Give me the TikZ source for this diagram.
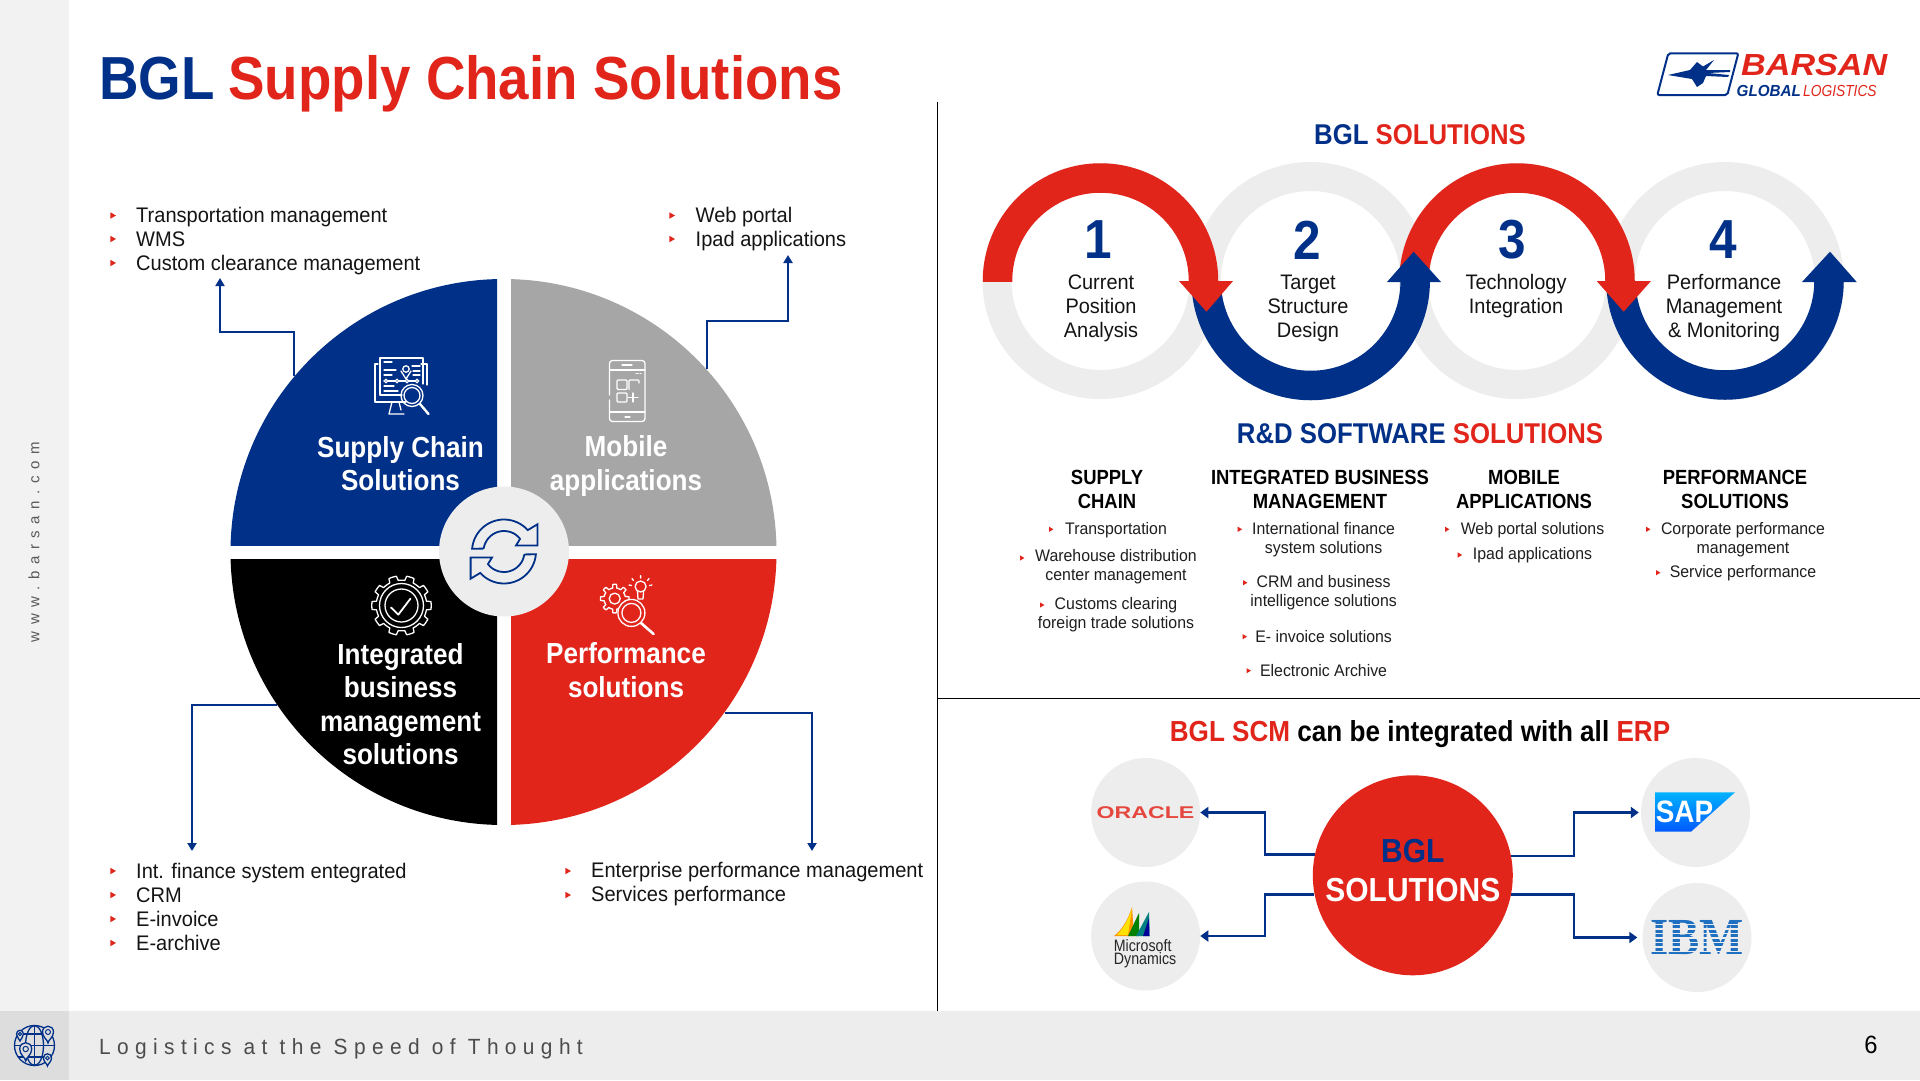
\documentclass[tikz,border=0pt]{standalone}
\usepackage{fontspec}
\setmainfont{Liberation Sans}[FakeStretch=0.95,BoldFeatures={FakeStretch=0.9}]
\newfontfamily\logowide{Liberation Sans}[FakeStretch=1.12]
\newfontfamily\logonarrow{Liberation Sans}[FakeStretch=0.95]
\newfontfamily\spacedfont{Liberation Sans}[LetterSpace=29,FakeStretch=0.95]
\newfontfamily\sidefont{Liberation Sans}[LetterSpace=44]
\newfontfamily\ibmfont{Liberation Serif}[FakeStretch=0.9]
\newfontfamily\oraclefont{Liberation Sans}[FakeStretch=1.36]
\newfontfamily\msfont{Liberation Sans}[FakeStretch=0.86]
\usetikzlibrary{arrows.meta,backgrounds}
\definecolor{bglblue}{HTML}{003087}
\definecolor{bglred}{HTML}{E1251B}
\definecolor{pale}{HTML}{EDEDED}
\definecolor{sidebar}{HTML}{F2F2F2}
\definecolor{corner}{HTML}{DDDDDD}
\definecolor{midgray}{HTML}{A6A6A6}
\definecolor{ibmblue}{HTML}{1F70C1}
\newcommand\fsz[2]{\fontsize{#1}{#2}\selectfont}
\newcommand\blt[2]{\fill[bglred] (#1-2.6,#2-3.2) -- (#1+3,#2) -- (#1-2.6,#2+3.2) -- cycle;}
\newcommand\blts[2]{\fill[bglred] (#1-2,#2-2.6) -- (#1+2.4,#2) -- (#1-2,#2+2.6) -- cycle;}
\tikzset{
  flow/.style={draw=bglblue,line width=2pt,-{Triangle[length=8pt,width=9pt]}},
  erpflow/.style={draw=bglblue,line width=2.2pt,-{Triangle[length=8pt,width=11pt]}},
  pielabel/.style={text=white,align=center,font=\bfseries\fsz{29}{33.4},inner sep=0pt},
  listtext/.style={anchor=west,align=left,font=\fsz{21.1}{24},inner sep=0pt,text=black!92},
  ringlabel/.style={align=center,font=\fsz{21}{24},inner sep=0pt,text=black!92},
  numlabel/.style={font=\bfseries\fsz{55}{55},text=bglblue,inner sep=0pt},
  colhead/.style={align=center,font=\bfseries\fsz{20.5}{23.7},inner sep=0pt,text=black},
  colitem/.style={align=center,font=\fsz{16.7}{19.2},inner sep=0pt,text=black!88},
  sechead/.style={font=\bfseries\fsz{28.6}{34},inner sep=0pt},
  icon/.style={draw=white,line width=1.3pt,line join=round,line cap=round},
  logocircle/.style={circle,fill=pale,minimum size=109pt,inner sep=0pt},
}
\begin{document}
\begin{tikzpicture}[x=1pt,y=-1pt]
\useasboundingbox (0,0) rectangle (1920,1080);
\fill[white] (0,0) rectangle (1920,1080);
% frame
\fill[sidebar] (0,0) rectangle (69,1011);
\fill[pale] (69,1011) rectangle (1920,1080);
\fill[corner] (0,1011) rectangle (69,1080);
\node[rotate=90,font=\sidefont\fsz{15}{15},text=black!65,inner sep=0pt] (site) at (34,542) {www.barsan.com};
\node[anchor=west,font=\spacedfont\fsz{22}{22},text=black!70,inner sep=0pt] (motto) at (99,1048.5) {Logistics at the Speed of Thought};
\node[font=\fsz{25}{25},inner sep=0pt] (pageno) at (1871,1045) {6};
% globe
\begin{scope}[draw=bglblue,line width=1.3pt]
\draw (34.5,1045.5) circle[radius=20];
\draw (34.5,1045.5) ellipse[x radius=9,y radius=20];
\draw (34.5,1025.5) -- (34.5,1065.5) (14.5,1045.5) -- (54.5,1045.5);
\draw (18,1034) -- (51,1034) (18,1057) -- (51,1057);
\foreach \px/\py/\pr in {48/1032/5.5,25.7/1049/6,47.5/1058/4,20/1034/3.5}{
  \filldraw[fill=corner] (\px-\pr,\py) .. controls (\px-\pr,\py-1.4*\pr) and (\px+\pr,\py-1.4*\pr) .. (\px+\pr,\py) .. controls (\px+\pr,\py+\pr) and (\px+0.3,\py+1.4*\pr) .. (\px,\py+2*\pr) .. controls (\px-0.3,\py+1.4*\pr) and (\px-\pr,\py+\pr) .. (\px-\pr,\py);
  \draw[line width=1pt] (\px,\py) circle[radius=0.45*\pr];
}
\end{scope}
% title
\node[anchor=base west,font=\bfseries\fsz{60.8}{61},inner sep=0pt] (title) at (99,99) {\textcolor{bglblue}{BGL}\hspace{-1.5pt} \textcolor{bglred}{Supply Chain Solutions}};
% logo
\draw[bglblue,line width=2pt,rounded corners=2pt] (1668.3,53.3) -- (1738.3,53.3) -- (1727.3,95) -- (1657.3,95) -- cycle;
\fill[bglblue] (1668,75) -- (1690,70) -- (1697,62) -- (1703,66.5) -- (1714,60) -- (1706,70) -- (1730,70) -- (1730,72) -- (1708,73) -- (1729,75) -- (1728,77) -- (1706,76) -- (1703,83) -- (1697,87) -- (1692,79) -- cycle;
\node[anchor=base west,font=\logowide\bfseries\itshape\fsz{30.5}{30},text=bglred,inner sep=0pt] (barsan) at (1741,75) {BARSAN};
\node[anchor=base west,font=\logonarrow\bfseries\itshape\fsz{16}{16},text=bglblue,inner sep=0pt] (glob) at (1736.5,96) {GLOBAL};
\node[anchor=base west,font=\msfont\itshape\fsz{16}{16},text=bglred,inner sep=0pt] (logi) at (1803,96) {LOGISTICS};
% dividers
\draw[black,line width=1pt] (937.5,101.5) -- (937.5,1011);
\draw[black,line width=1pt] (937.5,698) -- (1920,698);
% pie anchor
\node[circle,minimum size=546pt,inner sep=0pt] (pie) at (503.5,552) {};
% pie connectors
\coordinate (tlend) at (220,278);
\coordinate (trend) at (788,255);
\coordinate (blend) at (192,851);
\coordinate (brend) at (812,851);
\draw[flow] (pie.140.1) |- (220,332) -- (tlend);
\draw[flow] (pie.42.4) |- (788,321) -- (trend);
\draw[flow] (pie.214.1) -| (blend);
\draw[flow] (pie.-36.1) -| (brend);
% pie quadrants
\begin{scope}\clip (200,250) rectangle (497,545);\fill[bglblue] (pie.center) circle[radius=273];\end{scope}
\begin{scope}\clip (511,250) rectangle (800,545);\fill[midgray] (pie.center) circle[radius=273];\end{scope}
\begin{scope}\clip (200,559) rectangle (497,850);\fill[black] (pie.center) circle[radius=273];\end{scope}
\begin{scope}\clip (511,559) rectangle (800,850);\fill[bglred] (pie.center) circle[radius=273];\end{scope}
\node[circle,fill=pale,minimum size=130pt,inner sep=0pt] (sync) at (504,551.5) {};
% sync icon
\foreach \rr in {0,180}{
\begin{scope}[rotate around={\rr:(504,551.5)}]
\draw[bglblue,line width=1.8pt,line join=miter] plot[domain=175:42,samples=24] ({504+32*cos(\x)},{551.5-32*sin(\x)}) -- (537.4,524.3) -- (537.4,545.5) -- (516,545.5) -- (520,539) -- plot[domain=42:170,samples=20] ({504+20.5*cos(\x)},{551.5-20.5*sin(\x)}) -- (482.7,548.6) -- cycle;
\end{scope}}
% pie text
\node[pielabel] (scs) at (400.5,463.5) {Supply Chain\\Solutions};
\node[pielabel] (mob) at (626,466) {Mobile\\applications};
\node[pielabel] (ibm) at (400.5,704) {Integrated\\business\\management\\solutions};
\node[pielabel] (perf) at (626,670) {Performance\\solutions};
% supply icon
\begin{scope}[icon]
\draw (378,364) -- (375,364) -- (375,402) -- (406,402);
\draw (421,364) -- (427,364) -- (427,385);
\draw (380,395) -- (380,358) -- (423,358) -- (423,384);
\draw (380,395) -- (402,395);
\draw (392,402) -- (389,414) -- (404,414);
\draw (399,402) -- (401,410);
\draw (412,395.5) circle[radius=11];
\draw (412,395.5) circle[radius=8];
\draw[line width=2.4pt] (420,404) -- (428.5,414);
\draw (406,369) circle[radius=3.2];
\draw (401,371) -- (406,379) -- (411,371);
\draw (384,381) -- (418,381);
\foreach \cx in {386,397,407,417}{\filldraw[fill=bglblue] (\cx,381) circle[radius=1.8];}
\draw (384,362) -- (392,362) (384,370) -- (396,370) (384,375) -- (392,375);
\draw (412,366) -- (420,366) (413,371) -- (420,371) (413,375) -- (420,375);
\draw (384,391) -- (398,391) (384,386) -- (394,386);
\end{scope}
% mobile icon
\begin{scope}[icon]
\draw[rounded corners=3pt] (609.5,395) -- (609.5,360.5) -- (645,360.5) -- (645,421.5) -- (609.5,421.5) -- (609.5,400);
\draw (609.5,370) -- (645,370) (609.5,412) -- (645,412);
\draw (622,365) -- (632,365) (625,417) -- (630,417);
\draw (636,373.5) -- (638,373.5) (640,373.5) -- (641,373.5);
\draw[rounded corners=1pt] (617,380) rectangle (627,389.5);
\draw[rounded corners=1pt] (629,389.5) -- (629,380) -- (639,380) -- (639,383);
\draw[rounded corners=1pt] (617,393) rectangle (627,402);
\draw (633,393) -- (633,402) (628.5,397.5) -- (638,397.5);
\end{scope}
% gear icon
\begin{scope}[icon]
\draw plot[domain=0:360,samples=145,smooth] ({401.5+(27.5+2.2*(cos(10*\x)>0?1:-1))*cos(\x)},{605.5-(27.5+2.2*(cos(10*\x)>0?1:-1))*sin(\x)}) -- cycle;
\draw (401.5,605.5) circle[radius=22];
\draw (401.5,605.5) circle[radius=16.5];
\draw[line width=1.8pt] (391,607.5) -- (398.3,614.6) -- (410.5,598.6);
\end{scope}
% performance icon
\begin{scope}[icon]
\draw plot[domain=0:360,samples=97,smooth] ({614.7+(12.5+1.8*(cos(8*\x)>0?1:-1))*cos(\x)},{598.6-(12.5+1.8*(cos(8*\x)>0?1:-1))*sin(\x)}) -- cycle;
\draw (614.7,598.6) circle[radius=5.5];
\filldraw[fill=bglred] (631.4,612.9) circle[radius=13.5];
\draw (631.4,612.9) circle[radius=9.5];
\draw[line width=2.6pt] (641,623) -- (653.6,634);
\draw (640.6,586.5) circle[radius=5.5];
\draw (637.5,591) -- (638,599) -- (643,599) -- (643.6,591);
\draw (640.6,575.5) -- (640.6,578) (632,578.5) -- (633.5,580.5) (649,578.5) -- (647.5,580.5) (629,585) -- (631.5,585.5) (652,585) -- (649.5,585.5);
\end{scope}
% left lists
\node[listtext] (lst1) at (136,241) {Transportation management\\WMS\\Custom clearance management};
\foreach \yy in {215.5,239,263}{\blt{113}{\yy}}
\node[listtext] (lst2) at (695.5,229) {Web portal\\Ipad applications};
\foreach \yy in {215.5,239}{\blt{672}{\yy}}
\node[listtext] (lst3) at (136,907) {Int. finance system entegrated\\CRM\\E-invoice\\E-archive};
\foreach \yy in {871,895,919,943}{\blt{113}{\yy}}
\node[listtext] (lst4) at (591,884.5) {Enterprise performance management\\Services performance};
\foreach \yy in {871,895}{\blt{568}{\yy}}
% BGL solutions rings
\node[sechead,anchor=center] (solhead) at (1420,134.5) {\textcolor{bglblue}{BGL} \textcolor{bglred}{SOLUTIONS}};
\draw[pale,line width=29pt] (1100.5,281) circle[radius=103.5];
\draw[pale,line width=29pt] (1310.7,281) circle[radius=104.5];
\draw[pale,line width=29pt] (1517,281) circle[radius=103.5];
\draw[pale,line width=29pt] (1725,281) circle[radius=104.5];
% ring 4 blue
\begin{scope}\clip (1590,282) rectangle (1860,420);\draw[bglblue,line width=29.5pt] (1725,281) circle[radius=104];\end{scope}
\fill[bglblue] (1802,282) -- (1830,251.7) -- (1856.7,282) -- cycle;
% ring 3 red
\begin{scope}\clip (1390,140) rectangle (1650,281.5);\draw[bglred,line width=29.5pt] (1517,281) circle[radius=103];\end{scope}
\fill[bglred] (1596.7,281) -- (1651,281) -- (1623.7,311.7) -- cycle;
% ring 2 blue
\begin{scope}\clip (1180,282) rectangle (1440,420);\draw[bglblue,line width=29.5pt] (1310.7,281) circle[radius=104.5];\end{scope}
\fill[bglblue] (1387,282) -- (1413.6,251.7) -- (1441,282) -- cycle;
% ring 1 red
\begin{scope}\clip (970,140) rectangle (1235,281.5);\draw[bglred,line width=29.5pt] (1100.5,281) circle[radius=103];\end{scope}
\fill[bglred] (1179,281) -- (1233,281) -- (1206.5,311.7) -- cycle;
\node[numlabel] (n1) at (1098,240) {1};
\node[numlabel] (n2) at (1307.5,240) {2};
\node[numlabel] (n3) at (1512.6,240) {3};
\node[numlabel] (n4) at (1723,240) {4};
\node[ringlabel] (r1) at (1101,308) {Current\\Position\\Analysis};
\node[ringlabel] (r2) at (1308,308) {Target\\Structure\\Design};
\node[ringlabel] (r3) at (1516,296) {Technology\\Integration};
\node[ringlabel] (r4) at (1724,308) {Performance\\Management\\\& Monitoring};
% R&D
\node[sechead] (rdhead) at (1420,434) {\textcolor{bglblue}{R\&D SOFTWARE} \textcolor{bglred}{SOLUTIONS}};
\node[colhead] (h1) at (1107,489.5) {SUPPLY\\CHAIN};
\node[colhead] (h2) at (1320,489.5) {INTEGRATED BUSINESS\\MANAGEMENT};
\node[colhead] (h3) at (1524,489.5) {MOBILE\\APPLICATIONS};
\node[colhead] (h4) at (1735,489.5) {PERFORMANCE\\SOLUTIONS};
\node[colitem] (c1a) at (1116,530.5) {Transportation};
\node[colitem] (c1b) at (1116,567) {Warehouse distribution\\center management};
\node[colitem] (c1c) at (1116,614.5) {Customs clearing\\foreign trade solutions};
\blts{1051}{529.3}\blts{1022}{558}\blts{1042}{605}
\node[colitem] (c2a) at (1323.6,540) {International finance\\system solutions};
\node[colitem] (c2b) at (1323.6,593) {CRM and business\\intelligence solutions};
\node[colitem] (c2c) at (1323.6,636.7) {E- invoice solutions};
\node[colitem] (c2d) at (1323.6,670.7) {Electronic Archive};
\blts{1239.7}{529.3}\blts{1245}{582.7}\blts{1244.6}{636.7}\blts{1248.5}{670.7}
\node[colitem] (c3a) at (1532.5,530) {Web portal solutions};
\node[colitem] (c3b) at (1532.5,555) {Ipad applications};
\blts{1447}{529.3}\blts{1459.7}{555}
\node[colitem] (c4a) at (1743,540) {Corporate performance\\management};
\node[colitem] (c4b) at (1743,573.5) {Service performance};
\blts{1648}{529.3}\blts{1658}{572.7}
% ERP
\node[font=\bfseries\fsz{29}{34},inner sep=0pt] (erphead) at (1420,734.5) {\textcolor{bglred}{BGL SCM} \textcolor{black}{can be integrated with all} \textcolor{bglred}{ERP}};
\node[logocircle] (oracle) at (1145.6,812.5) {};
\node[logocircle] (msd) at (1145.6,936) {};
\node[logocircle] (sap) at (1695.5,812.5) {};
\node[logocircle] (ibmc) at (1697,937.5) {};
\node[circle,minimum size=200pt,inner sep=0pt] (hubanchor) at (1412.8,875.3) {};
\coordinate (kl) at (1265,875);
\coordinate (kr) at (1574,875);
\coordinate (sapin) at ([xshift=-2pt]sap.west);
\coordinate (ibmin) at ([xshift=-5pt]ibmc.west);
\draw[erpflow] (hubanchor.168.7) -| (kl |- oracle.east) -- (oracle.east);
\draw[erpflow] (hubanchor.191.3) -| (kl |- msd.east) -- (msd.east);
\draw[erpflow] (hubanchor.11.3) -| (kr |- sapin) -- (sapin);
\draw[erpflow] (hubanchor.-11.3) -| (kr |- ibmin) -- (ibmin);
\node[circle,fill=bglred,minimum size=200pt,inner sep=0pt] (hub) at (1412.8,875.3) {};
\node[align=center,font=\bfseries\fsz{33.3}{39},inner sep=0pt] (hubtext) at (1412.8,871) {\textcolor{bglblue}{BGL}\\\textcolor{white}{SOLUTIONS}};
% oracle logo
\node[font=\oraclefont\fsz{17}{17},text=bglred!85!white,inner sep=0pt] (oraclet) at (1145.5,813) {\bfseries ORACLE};
% ms dynamics logo
\fill[orange!85!yellow] (1114,936) .. controls (1122,930) and (1128,920) .. (1132,906.7) -- (1134,936) -- cycle;
\fill[yellow!85!orange] (1117,935) .. controls (1124,928) and (1129,918) .. (1132,908) -- (1128,935) -- cycle;
\fill[green!50!black] (1128,936) -- (1139,913) -- (1139,936) -- cycle;
\fill[teal] (1136,936) -- (1149,912) -- (1149.5,936) -- cycle;
\fill[blue!60!black] (1143,936) -- (1149,918) -- (1149.5,936) -- cycle;
\node[anchor=north west,align=left,font=\msfont\fsz{16.5}{13.5},inner sep=0pt,text=black!85] (mst) at (1113.7,939) {Microsoft\\Dynamics};
% sap logo
\shade[top color=cyan!70!blue,bottom color=blue!65!cyan] (1655,792.3) -- (1735,792.3) -- (1691,831.7) -- (1655,831.7) -- cycle;
\node[font=\bfseries\fsz{31}{31},text=white,inner sep=0pt] (sapt) at (1684.5,812) {SAP};
% ibm logo
\node[font=\ibmfont\bfseries\fsz{52}{52},text=ibmblue,inner sep=0pt] (ibmt) at (1697,938) {IBM};
\foreach \yy in {924.5,929,933.5,938,942.5,947,951.5}{\draw[pale,line width=1.6pt] (1645,\yy) -- (1750,\yy);}
\end{tikzpicture}
\end{document}
